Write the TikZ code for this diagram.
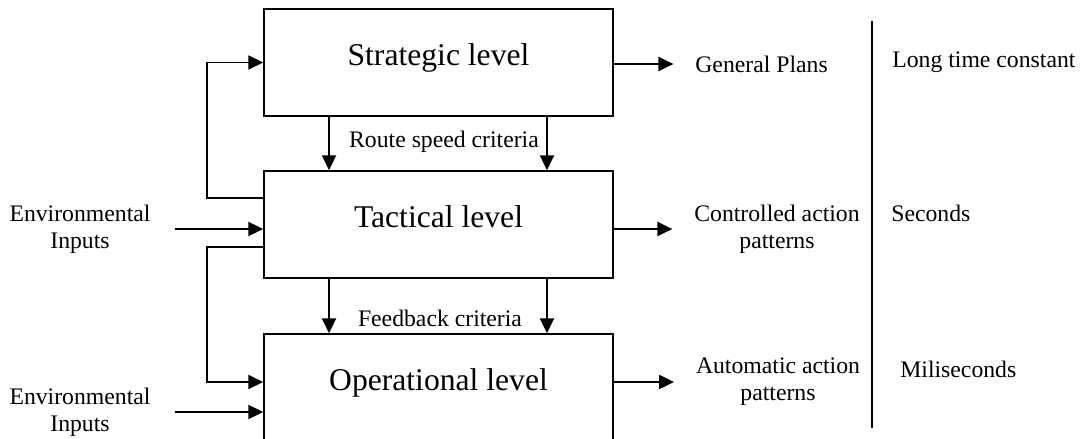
\documentclass[tikz,border=0pt]{standalone}
\usepackage{fontspec}
\setmainfont{Liberation Serif}
\usetikzlibrary{arrows.meta}

\begin{document}
\begin{tikzpicture}[x=0.02cm,y=-0.02cm,
  level/.style={draw,line width=0.9pt,minimum width=6.98cm,minimum height=2.14cm,
    font=\fontsize{18}{22}\selectfont,text height=12.5pt,text depth=9pt},
  txt/.style={inner sep=0pt,font=\fontsize{13.5}{15.5}\selectfont,align=center},
  arr/.style={-{Triangle[length=8.5pt,width=8pt]},line width=1.1pt},
  loopline/.style={arr,line width=0.9pt}]
\useasboundingbox (0,0) rectangle (1083,439);
% Levels
\node[level] (strat) at (438.5,62.5) {Strategic level};
\node[level] (tact) at (438.5,224.5) {Tactical level};
\node[level] (oper) at (438.5,387.5) {Operational level};
% Criteria between levels
\draw[arr] ([xshift=-2.19cm]strat.south) -- ([xshift=-2.19cm]tact.north);
\draw[arr] ([xshift=2.17cm]strat.south) -- ([xshift=2.17cm]tact.north);
\node[txt] (route) at (444,142) {Route speed criteria};
\draw[arr] ([xshift=-2.19cm]tact.south) -- ([xshift=-2.19cm]oper.north);
\draw[arr] ([xshift=2.17cm]tact.south) -- ([xshift=2.17cm]oper.north);
\node[txt] (feedback) at (440,318) {Feedback criteria};
% Loops on the left
\draw[loopline] ([yshift=0.53cm]tact.west) -- ++(-56,0) |- (strat.west);
\draw[loopline] ([yshift=-0.45cm]tact.west) -- ++(-56,0) |- ([yshift=0.11cm]oper.west);
% Environmental inputs
\node[txt] (env1) at (80,229) {Environmental\\Inputs};
\draw[arr,shorten <=13.6pt] (env1.east) -- (env1.east -| tact.west);
\node[txt] (env2) at (80,412) {Environmental\\Inputs};
\draw[arr,shorten <=13.6pt] (env2.east) -- (env2.east -| oper.west);
% Outputs
\node[txt,anchor=west] (gp) at (695,64) {General Plans};
\draw[arr,shorten >=12.3pt] (gp.west -| strat.east) -- (gp.west);
\node[txt] (cap) at (777,229) {Controlled action\\patterns};
\draw[arr,shorten >=12.3pt] (cap.west -| tact.east) -- (cap.west);
\node[txt] (aap) at (778,382) {Automatic action\\patterns};
\draw[arr,shorten >=12.3pt] (aap.west -| oper.east) -- (aap.west);
% Time constants
\draw[line width=0.8pt] (872,21) -- (872,428);
\node[txt,anchor=west] (ltc) at (892,62) {Long time constant};
\node[txt,anchor=west] (sec) at (891,213) {Seconds};
\node[txt,anchor=west] (msec) at (900,369) {Miliseconds};
\end{tikzpicture}
\end{document}
